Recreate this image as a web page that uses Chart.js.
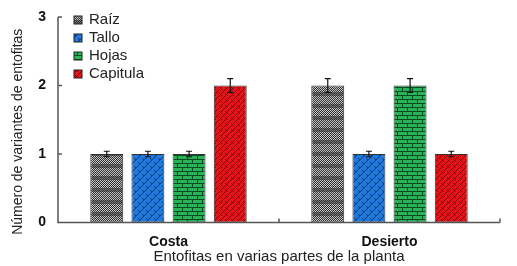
<!DOCTYPE html>
<html>
<head>
<meta charset="utf-8">
<script src="https://cdn.jsdelivr.net/npm/chart.js@4"></script>
<style>
  body { margin: 0; background: #fff; }
</style>
</head>
<body>
<canvas id="barChart" width="517" height="266"></canvas>
<script>
"use strict"

// Datos
const sites = ['Costa', 'Desierto'];
const parts = ['Raíz', 'Tallo', 'Hojas', 'Capitula'];
const raiz = [1, 2];
const tallo = [1, 1];
const hojas = [1, 2];
const capitula = [2, 1];
const raizErr = [0.04, 0.1];
const talloErr = [0.04, 0.04];
const hojasErr = [0.04, 0.1];
const capitulaErr = [0.1, 0.04];
const yTicks = [0, 1, 2, 3];
const yTitle = 'Número de variantes de entofitas';

const FONT = '"Liberation Sans", Arial, sans-serif';

/**
 * Skapar ett litet mönster (pattern) för staplarna.
 */
function makePattern(w, h, draw) {
    const c = document.createElement('canvas');
    c.width = w;
    c.height = h;
    const g = c.getContext('2d');
    draw(g, w, h);
    return g.createPattern(c, 'repeat');
}

const patRaiz = makePattern(4, 12, (g, w, h) => {
    g.fillStyle = '#333';
    g.fillRect(0, 0, w, h);
    for (let y = 0; y < h; y++) {
        for (let x = 0; x < w; x++) {
            if ((x + y) % 2 === 0) {
                g.fillStyle = y < 8 ? '#c4c4c4' : '#777';
                g.fillRect(x, y, 1, 1);
            }
        }
    }
});

const patTallo = makePattern(8, 8, (g, w, h) => {
    g.fillStyle = '#1f78dc';
    g.fillRect(0, 0, w, h);
    g.strokeStyle = '#0b3a78';
    g.lineWidth = 1;
    g.beginPath();
    g.moveTo(0, 8); g.lineTo(8, 0);
    g.moveTo(-4, 4); g.lineTo(4, -4);
    g.moveTo(4, 12); g.lineTo(12, 4);
    g.moveTo(2, 2); g.lineTo(4, 4);
    g.moveTo(6, 6); g.lineTo(8, 8);
    g.stroke();
});

const patHojas = makePattern(10, 8, (g, w, h) => {
    g.fillStyle = '#27b35a';
    g.fillRect(0, 0, w, h);
    g.fillStyle = '#0c4a22';
    g.fillRect(0, 3, w, 1);
    g.fillRect(0, 7, w, 1);
    g.fillRect(2, 0, 1, 3);
    g.fillRect(7, 4, 1, 3);
});

const patCapitula = makePattern(6, 6, (g, w, h) => {
    g.fillStyle = '#e3141a';
    g.fillRect(0, 0, w, h);
    g.strokeStyle = '#7a0608';
    g.lineWidth = 1;
    g.beginPath();
    g.moveTo(0, 3); g.lineTo(3, 0);
    g.moveTo(3, 6); g.lineTo(6, 3);
    g.moveTo(3, 3); g.lineTo(6, 6);
    g.stroke();
});

// Felstaplar ritas med skalornas egna pixelvärden
const errorBars = {
    id: 'errorBars',
    afterDatasetsDraw(chart) {
        const ctx = chart.ctx;
        const y = chart.scales.y;
        ctx.save();
        ctx.strokeStyle = '#111';
        ctx.lineWidth = 1.2;
        chart.data.datasets.forEach((ds, i) => {
            chart.getDatasetMeta(i).data.forEach((bar, j) => {
                const v = ds.data[j];
                const e = ds.errors[j];
                const top = y.getPixelForValue(v + e);
                const bot = y.getPixelForValue(v - e);
                ctx.beginPath();
                ctx.moveTo(bar.x, top); ctx.lineTo(bar.x, bot);
                ctx.moveTo(bar.x - 3, top); ctx.lineTo(bar.x + 3, top);
                ctx.moveTo(bar.x - 3, bot); ctx.lineTo(bar.x + 3, bot);
                ctx.stroke();
            });
        });
        ctx.restore();
    }
};

// Axlar med inåtriktade streck, y-titel och förklaring
const axesAndLegend = {
    id: 'axesAndLegend',
    afterDraw(chart) {
        const ctx = chart.ctx;
        const x = chart.scales.x;
        const y = chart.scales.y;
        const a = chart.chartArea;
        ctx.save();
        ctx.strokeStyle = '#555';
        ctx.lineWidth = 1.5;
        ctx.beginPath();
        ctx.moveTo(a.left, a.top);
        ctx.lineTo(a.left, a.bottom);
        ctx.lineTo(a.right, a.bottom);
        yTicks.forEach(t => {
            const py = y.getPixelForValue(t);
            ctx.moveTo(a.left, py); ctx.lineTo(a.left + 4, py);
        });
        const mid = (x.getPixelForValue(0) + x.getPixelForValue(1)) / 2;
        [mid, a.right].forEach(px => {
            ctx.moveTo(px, a.bottom); ctx.lineTo(px, a.bottom - 4);
        });
        ctx.stroke();

        // y-titel
        ctx.save();
        ctx.translate(18, (a.top + a.bottom) / 2 + 12);
        ctx.rotate(-Math.PI / 2);
        ctx.font = '14px ' + FONT;
        ctx.fillStyle = '#222';
        ctx.textAlign = 'center';
        ctx.textBaseline = 'middle';
        ctx.fillText(yTitle, 0, 0);
        ctx.restore();

        ctx.font = '15px ' + FONT;
        ctx.textBaseline = 'middle';
        chart.data.datasets.forEach((ds, i) => {
            const ly = 20 + i * 18;
            ctx.fillStyle = ds.backgroundColor;
            ctx.fillRect(74, ly - 4, 8, 8);
            ctx.strokeStyle = '#222';
            ctx.lineWidth = 1;
            ctx.strokeRect(74, ly - 4, 8, 8);
            ctx.fillStyle = '#222';
            ctx.fillText(ds.label, 89, ly);
        });
        ctx.restore();
    }
};

const series = [raiz, tallo, hojas, capitula];
const errs = [raizErr, talloErr, hojasErr, capitulaErr];
const pats = [patRaiz, patTallo, patHojas, patCapitula];

new Chart(document.getElementById('barChart').getContext('2d'), {
    type: 'bar',
    data: {
        labels: sites,
        datasets: parts.map((p, i) => ({
            label: p,
            data: series[i],
            errors: errs[i],
            backgroundColor: pats[i],
            borderColor: '#333',
            borderWidth: 1,
            borderSkipped: false,
            barPercentage: 0.8,
            categoryPercentage: 0.745
        }))
    },
    options: {
        responsive: false,
        animation: false,
        devicePixelRatio: 1,
        layout: { padding: { top: 17, right: 17, left: 0, bottom: 0 } },
        plugins: {
            legend: { display: false },
            tooltip: { enabled: false }
        },
        scales: {
            x: {
                grid: { display: false },
                border: { display: false },
                ticks: {
                    color: '#111',
                    padding: 3,
                    font: { family: FONT, size: 14, weight: 'bold' }
                },
                title: {
                    display: true,
                    text: 'Entofitas en varias partes de la planta',
                    color: '#222',
                    padding: { top: -4, bottom: 0 },
                    font: { family: FONT, size: 15 }
                },
                afterFit(scale) { scale.height = 43.5; }
            },
            y: {
                min: 0,
                max: 3,
                afterBuildTicks(scale) { scale.ticks = yTicks.map(v => ({ value: v })); },
                grid: { display: false },
                border: { display: false },
                ticks: {
                    color: '#111',
                    padding: 4,
                    font: { family: FONT, size: 14, weight: 'bold' }
                },
                afterFit(scale) { scale.width = 58; }
            }
        }
    },
    plugins: [errorBars, axesAndLegend]
});
</script>
</body>
</html>
